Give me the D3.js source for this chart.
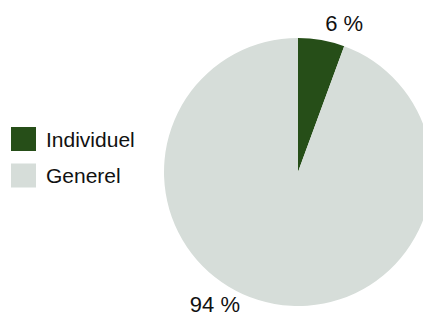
<!DOCTYPE html>
<html>
<head>
<meta charset="utf-8">
<script src="https://cdn.jsdelivr.net/npm/d3@7"></script>
<style>
  body { margin: 0; background: #fff; }
  svg { display: block; font-family: "Liberation Sans", Arial, sans-serif; }
</style>
</head>
<body>
<div id="chart"></div>
<script>
// data
var categories = ["Individuel", "Generel"];
var values = [5.6, 94.4];
var colors = ["#264e18", "#d6ddd9"];

var width = 423, height = 314;
var cx = 298, cy = 172, radius = 134;
var labelRadius = 156;
// vertical room for the outside labels
var labelTop = 23, labelBottom = height - 10;

var svg = d3.select("#chart").append("svg")
  .attr("width", width)
  .attr("height", height);

var pie = d3.pie().sort(null).value(d => d.value);
var arc = d3.arc().innerRadius(0).outerRadius(radius);

var data = categories.map((c, i) => ({ name: c, value: values[i], color: colors[i] }));
var arcs = pie(data);

var g = svg.append("g").attr("transform", "translate(" + cx + "," + cy + ")");

g.selectAll("path")
  .data(arcs)
  .enter()
  .append("path")
  .attr("d", arc)
  .attr("fill", d => d.data.color);

// labels on a circle outside the pie, kept inside the picture
var fmt = d3.format(".0f");
function labelPos(d) {
  var a = (d.startAngle + d.endAngle) / 2;
  var x = Math.sin(a) * labelRadius;
  var y = -Math.cos(a) * labelRadius;
  var yc = Math.max(labelTop - cy, Math.min(labelBottom - cy, y));
  if (yc !== y) {
    var side = x < 0 ? -1 : 1;
    x = side * Math.sqrt(labelRadius * labelRadius - yc * yc);
    y = yc;
  }
  return [x, y];
}

g.selectAll("text.lbl")
  .data(arcs)
  .enter()
  .append("text")
  .attr("class", "lbl")
  .attr("x", d => labelPos(d)[0])
  .attr("y", d => labelPos(d)[1])
  .attr("text-anchor", "middle")
  .attr("dy", "0.36em")
  .attr("font-size", 22)
  .attr("fill", "#111")
  .text(d => fmt(d.data.value) + " %");

// legend
var legend = svg.append("g").attr("transform", "translate(11,127)");
var item = legend.selectAll("g")
  .data(data)
  .enter()
  .append("g")
  .attr("transform", (d, i) => "translate(0," + i * 36.5 + ")");

item.append("rect")
  .attr("width", 25)
  .attr("height", 24)
  .attr("fill", d => d.color);

item.append("text")
  .attr("x", 35)
  .attr("y", 19.5)
  .attr("font-size", 21)
  .attr("fill", "#111")
  .text(d => d.name);
</script>
</body>
</html>
